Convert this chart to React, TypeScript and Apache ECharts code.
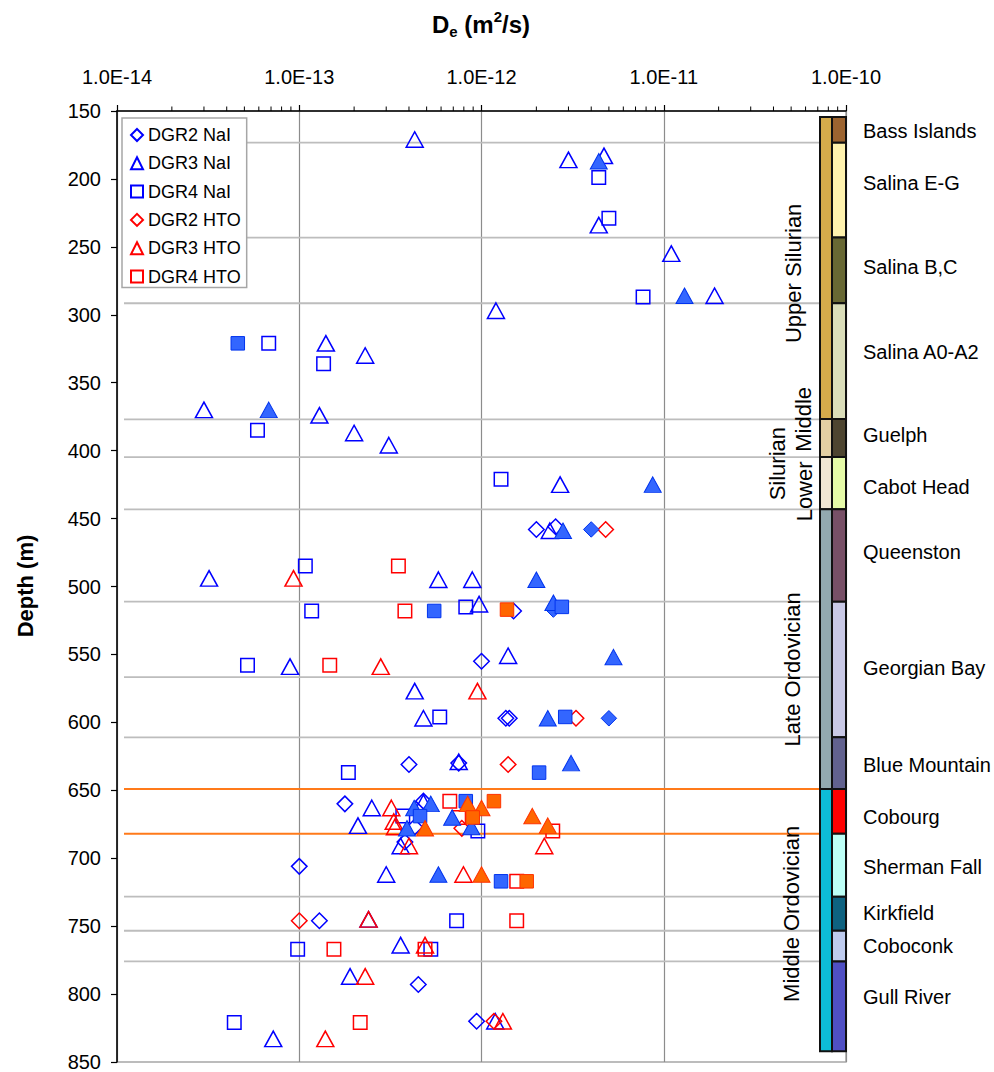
import React, { useEffect, useRef } from "react";
import * as echarts from "echarts";

const FONT = "'Liberation Sans', Arial, Helvetica, sans-serif";

const X_MIN = 1e-14;
const X_MAX = 1e-10;
const DEPTH_MIN = 150;
const DEPTH_MAX = 850;
const DEPTH_INTERVAL = 50;

type Pt = [number, number]; // [De (m2/s), depth (m)]

// ---- open symbols (legend series) ----
const dgr2NaI: Pt[] = [
  [2.0e-12, 458], [2.55e-12, 456], [1.5e-12, 518], [1.0e-12, 555], [1.36e-12, 597],
  [1.42e-12, 597], [4.0e-13, 631], [7.5e-13, 630], [1.78e-13, 660], [4.8e-13, 658],
  [4.3e-13, 677], [3.8e-13, 688], [1.0e-13, 706], [1.29e-13, 746], [4.5e-13, 793],
  [9.4e-13, 820],
];
const dgr3NaI: Pt[] = [
  [4.3e-13, 171], [3.0e-12, 186], [4.7e-12, 183], [4.4e-12, 234], [1.1e-11, 255],
  [1.9e-11, 286], [1.2e-12, 297], [1.4e-13, 321], [2.3e-13, 330], [3.0e-14, 370],
  [1.29e-13, 374], [2.0e-13, 387], [3.1e-13, 396], [2.7e-12, 425], [2.37e-12, 459],
  [3.2e-14, 494], [5.8e-13, 495], [8.9e-13, 495], [9.7e-13, 513], [8.9e-14, 559],
  [1.4e-12, 551], [4.3e-13, 577], [4.8e-13, 597], [7.5e-13, 629], [2.5e-13, 663],
  [2.1e-13, 676], [4.8e-13, 659], [3.6e-13, 691], [3.0e-13, 712], [2.4e-13, 745],
  [3.6e-13, 764], [1.9e-13, 787], [7.2e-14, 833], [1.19e-12, 820],
];
const dgr4NaI: Pt[] = [
  [4.4e-12, 199], [5.0e-12, 229], [7.7e-12, 287], [6.8e-14, 321], [1.36e-13, 336],
  [5.9e-14, 385], [1.28e-12, 421], [1.08e-13, 485], [1.17e-13, 518], [8.2e-13, 515],
  [5.2e-14, 558], [5.9e-13, 596], [1.86e-13, 637], [3.7e-13, 669], [9.55e-13, 680],
  [7.3e-13, 746], [9.8e-14, 767], [5.27e-13, 767], [4.4e-14, 821],
];
const dgr2HTO: Pt[] = [
  [4.8e-12, 458], [3.3e-12, 597], [1.4e-12, 631], [7.8e-13, 678], [1.0e-13, 746],
  [1.17e-12, 820],
];
const dgr3HTO: Pt[] = [
  [9.3e-14, 494], [2.8e-13, 559], [9.5e-13, 577], [3.2e-13, 663], [3.3e-13, 673],
  [3.35e-13, 677], [4.0e-13, 691], [7.96e-13, 712], [2.21e-12, 691], [2.4e-13, 745],
  [4.9e-13, 764], [2.3e-13, 787], [1.39e-13, 833], [1.31e-12, 820],
];
const dgr4HTO: Pt[] = [
  [3.5e-13, 485], [3.8e-13, 518], [1.47e-13, 558], [6.7e-13, 658], [7.5e-13, 670],
  [2.46e-12, 680], [1.56e-12, 717], [1.56e-12, 746], [1.55e-13, 767], [4.9e-13, 767],
  [2.16e-13, 821],
];

// ---- filled symbols (not in legend) ----
const dgr2NaIFilled: Pt[] = [[4.0e-12, 458], [2.48e-12, 517], [5.0e-12, 597]];
const dgr3NaIFilled: Pt[] = [
  [4.4e-12, 187], [1.3e-11, 286], [6.8e-14, 370], [8.7e-12, 425], [2.8e-12, 459],
  [2.0e-12, 495], [2.48e-12, 512], [5.3e-12, 552], [2.31e-12, 597], [3.1e-12, 630],
  [4.27e-13, 663], [5.27e-13, 660], [3.9e-13, 678], [6.9e-13, 670], [8.8e-13, 677],
  [5.8e-13, 712],
];
const dgr4NaIFilled: Pt[] = [
  [4.6e-14, 321], [5.5e-13, 518], [2.76e-12, 515], [2.88e-12, 596], [2.07e-12, 637],
  [4.6e-13, 669], [8.2e-13, 658], [1.28e-12, 717],
];
const dgr3HTOFilled: Pt[] = [
  [4.9e-13, 678], [8.4e-13, 660], [1.0e-12, 663], [1.9e-12, 669], [2.31e-12, 676],
  [1.0e-12, 712],
];
const dgr4HTOFilled: Pt[] = [
  [1.38e-12, 517], [1.17e-12, 658], [8.95e-13, 670], [1.77e-12, 717],
];

// ---- stratigraphy ----
const formationNames = [
  "Bass Islands", "Salina E-G", "Salina B,C", "Salina A0-A2", "Guelph", "Cabot Head",
  "Queenston", "Georgian Bay", "Blue Mountain", "Cobourg", "Sherman Fall", "Kirkfield",
  "Coboconk", "Gull River",
];
const formationBounds = [
  154.4, 173.3, 243.2, 291.5, 376.8, 404.7, 443.2, 511.2, 611, 649, 682, 728.3, 753.4, 776, 842,
];
const formationLabelDepths = [
  165, 203, 265, 327.5, 388.6, 427, 474.7, 560, 631.5, 669.8, 706.6, 740.4, 764.7, 802.2,
];
const formationColors = [
  "#9C6430", "#FFF2AE", "#686834", "#DADDB9", "#4E4530", "#E6FBA8", "#785067",
  "#C9C9E6", "#62628F", "#FF0000", "#BDFFF6", "#0E6280", "#BECBEE", "#5050C4",
];
const eraBounds = [154.4, 376.8, 404.7, 443.2, 649, 842];
const eraColors = ["#D5AB4B", "#E3CFA3", "#F1E6D3", "#93A9B0", "#0DBCD6"];
const eraLabels = ["Upper Silurian", "Middle", "Silurian", "Lower", "Late Ordovician", "Middle Ordovician"];
const eraLabelDepths = [269.5, 377, 409.6, 430, 561, 741];

const gridDepths = [173.3, 243.2, 291.5, 377, 404.7, 443.2, 511.2, 566.7, 611, 728.3, 753.4, 776];
const cobourgDepths = [649, 682];

// layout (pixel offsets, not data)
const ERA_LABEL_DX = [-53, -43, -69, -42, -54, -55];

const minorTicks: number[] = [];
for (let e = -14; e < -10; e++) for (let k = 2; k <= 9; k++) minorTicks.push(k * Math.pow(10, e));

const BLUE = "#0000FF";
const RED = "#FF0000";

function openSeries(name: string, data: Pt[], symbol: string, color: string, size: any) {
  return {
    name, type: "scatter", data, symbol, symbolSize: size, z: 3,
    itemStyle: { color: "rgba(255,255,255,0)", borderColor: color, borderWidth: 1.5, opacity: 1 },
    emphasis: { disabled: true },
  };
}
function filledSeries(name: string, data: Pt[], symbol: string, fill: string, border: string, size: any) {
  return {
    name, type: "scatter", data, symbol, symbolSize: size, z: 4,
    itemStyle: { color: fill, borderColor: border, borderWidth: 1, opacity: 1 },
    emphasis: { disabled: true },
  };
}

const TRI = [17, 15.5];
const SQ = 13.5;
const DIA = 15.5;

export default function App() {
  const ref = useRef<HTMLDivElement>(null);
  useEffect(() => {
    const chart = echarts.init(ref.current!, null, { renderer: "svg" });
    const option: any = {
      animation: false,
      textStyle: { fontFamily: FONT },
      grid: {
        left: 117, top: 111, width: 729, height: 951,
        show: true, borderColor: "#A6A6A6", borderWidth: 1.5, backgroundColor: "rgba(0,0,0,0)",
      },
      xAxis: {
        type: "log", logBase: 10, min: X_MIN, max: X_MAX, position: "top",
        axisLine: { show: true, onZero: false, lineStyle: { color: "#000", width: 1.5 } },
        axisTick: { show: true, length: 6, lineStyle: { color: "#000", width: 1.2 } },
        axisLabel: {
          fontSize: 20, color: "#000", fontFamily: FONT, margin: 24,
          formatter: (v: number) => v.toExponential(1).toUpperCase(),
        },
        splitLine: { show: true, lineStyle: { color: "#8C8C8C", width: 1.2 } },
      },
      yAxis: {
        type: "value", inverse: true, min: DEPTH_MIN, max: DEPTH_MAX, interval: DEPTH_INTERVAL,
        axisLine: { show: true, onZero: false, lineStyle: { color: "#000", width: 1.5 } },
        axisTick: { show: true, length: 6, lineStyle: { color: "#000", width: 1.2 } },
        axisLabel: { fontSize: 20, color: "#000", fontFamily: FONT, margin: 16 },
        splitLine: { show: false },
      },
      legend: {
        orient: "vertical", left: 122, top: 118,
        data: ["DGR2 NaI", "DGR3 NaI", "DGR4 NaI", "DGR2 HTO", "DGR3 HTO", "DGR4 HTO"],
        itemWidth: 12, itemHeight: 12, itemGap: 8.3, padding: [7, 6, 1, 8],
        backgroundColor: "#FFFFFF", borderColor: "#A6A6A6", borderWidth: 1.5, borderRadius: 0,
        textStyle: { fontSize: 18, color: "#000", fontFamily: FONT, lineHeight: 20 },
        selectedMode: false,
      },
      graphic: [
        {
          type: "text", x: 481, y: 24,
          style: {
            text: "{b|D}{sub|e}{b| (m}{sup|2}{b|/s)}",
            align: "center", verticalAlign: "middle",
            rich: {
              b: { fontSize: 24, fontWeight: "bold", fontFamily: FONT, lineHeight: 30, verticalAlign: "middle", fill: "#000" },
              sub: { fontSize: 15, fontWeight: "bold", fontFamily: FONT, lineHeight: 15, verticalAlign: "bottom", fill: "#000" },
              sup: { fontSize: 15, fontWeight: "bold", fontFamily: FONT, lineHeight: 15, verticalAlign: "top", fill: "#000" },
            },
          },
        },
        {
          type: "text", x: 25, y: 586, rotation: Math.PI / 2,
          style: { text: "Depth (m)", font: `bold 22px ${FONT}`, fill: "#000", align: "center", verticalAlign: "middle" },
        },
      ],
      series: [
        {
          name: "gridlines", type: "custom", coordinateSystem: "cartesian2d", z: 1, silent: true, clip: false,
          data: gridDepths.map((d) => [X_MAX, d]).concat(cobourgDepths.map((d) => [X_MAX, d])),
          encode: { x: 0, y: 1 },
          renderItem: (params: any, api: any) => {
            const d = api.value(1);
            const a = api.coord([X_MIN, d]);
            const b = api.coord([X_MAX, d]);
            const orange = params.dataIndex >= gridDepths.length;
            return {
              type: "line",
              shape: { x1: a[0] + 7, y1: a[1], x2: b[0] - 26, y2: b[1] },
              style: { stroke: orange ? "#FF7A1A" : "#BDBDBD", lineWidth: orange ? 2 : 1.8 },
            };
          },
        },
        {
          name: "minorTicks", type: "custom", coordinateSystem: "cartesian2d", z: 5, silent: true, clip: false,
          data: minorTicks.map((v) => [v, DEPTH_MIN]),
          encode: { x: 0, y: 1 },
          renderItem: (params: any, api: any) => {
            const p = api.coord([api.value(0), DEPTH_MIN]);
            return {
              type: "line",
              shape: { x1: p[0], y1: p[1], x2: p[0], y2: p[1] - 4.5 },
              style: { stroke: "#000", lineWidth: 1 },
            };
          },
        },
        {
          name: "eras", type: "custom", coordinateSystem: "cartesian2d", z: 6, silent: true, clip: false,
          data: eraColors.map((c, i) => [X_MAX, eraBounds[i]]),
          encode: { x: 0, y: 1 },
          renderItem: (params: any, api: any) => {
            const i = params.dataIndex;
            const t = api.coord([X_MAX, eraBounds[i]]);
            const b = api.coord([X_MAX, eraBounds[i + 1]]);
            return {
              type: "rect",
              shape: { x: t[0] - 26, y: t[1], width: 12, height: b[1] - t[1] },
              style: { fill: eraColors[i], stroke: "#111", lineWidth: 2 },
            };
          },
        },
        {
          name: "eraLabels", type: "custom", coordinateSystem: "cartesian2d", z: 6, silent: true, clip: false,
          data: eraLabels.map((l, i) => [X_MAX, eraLabelDepths[i]]),
          encode: { x: 0, y: 1 },
          renderItem: (params: any, api: any) => {
            const i = params.dataIndex;
            const p = api.coord([X_MAX, eraLabelDepths[i]]);
            return {
              type: "text", x: p[0] + ERA_LABEL_DX[i], y: p[1], rotation: Math.PI / 2,
              style: { text: eraLabels[i], font: `22px ${FONT}`, fill: "#000", align: "center", verticalAlign: "middle" },
            };
          },
        },
        {
          name: "formations", type: "custom", coordinateSystem: "cartesian2d", z: 6, silent: true, clip: false,
          data: formationNames.map((n, i) => [X_MAX, formationLabelDepths[i]]),
          encode: { x: 0, y: 1 },
          renderItem: (params: any, api: any) => {
            const i = params.dataIndex;
            const t = api.coord([X_MAX, formationBounds[i]]);
            const b = api.coord([X_MAX, formationBounds[i + 1]]);
            const l = api.coord([X_MAX, formationLabelDepths[i]]);
            return {
              type: "group",
              children: [
                {
                  type: "rect",
                  shape: { x: t[0] - 14, y: t[1], width: 14, height: b[1] - t[1] },
                  style: { fill: formationColors[i], stroke: "#111", lineWidth: 2 },
                },
                {
                  type: "text", x: t[0] + 17, y: l[1],
                  style: { text: formationNames[i], font: `20px ${FONT}`, fill: "#000", align: "left", verticalAlign: "middle" },
                },
              ],
            };
          },
        },
        openSeries("DGR2 NaI", dgr2NaI, "diamond", BLUE, DIA),
        openSeries("DGR3 NaI", dgr3NaI, "triangle", BLUE, TRI),
        openSeries("DGR4 NaI", dgr4NaI, "rect", BLUE, SQ),
        openSeries("DGR2 HTO", dgr2HTO, "diamond", RED, DIA),
        openSeries("DGR3 HTO", dgr3HTO, "triangle", RED, TRI),
        openSeries("DGR4 HTO", dgr4HTO, "rect", RED, SQ),
        filledSeries("DGR2 NaI filled", dgr2NaIFilled, "diamond", "#3366FF", "#0033EE", DIA),
        filledSeries("DGR3 NaI filled", dgr3NaIFilled, "triangle", "#3366FF", "#0033EE", TRI),
        filledSeries("DGR4 NaI filled", dgr4NaIFilled, "rect", "#3366FF", "#0033EE", SQ),
        filledSeries("DGR3 HTO filled", dgr3HTOFilled, "triangle", "#FF6600", "#FF3300", TRI),
        filledSeries("DGR4 HTO filled", dgr4HTOFilled, "rect", "#FF6600", "#FF3300", SQ),
      ],
    };
    chart.setOption(option);
    return () => chart.dispose();
  }, []);
  return (
    <div
      ref={ref}
      style={{ position: "absolute", left: 0, top: 0, width: "994px", height: "1072px", background: "#fff" }}
    />
  );
}
